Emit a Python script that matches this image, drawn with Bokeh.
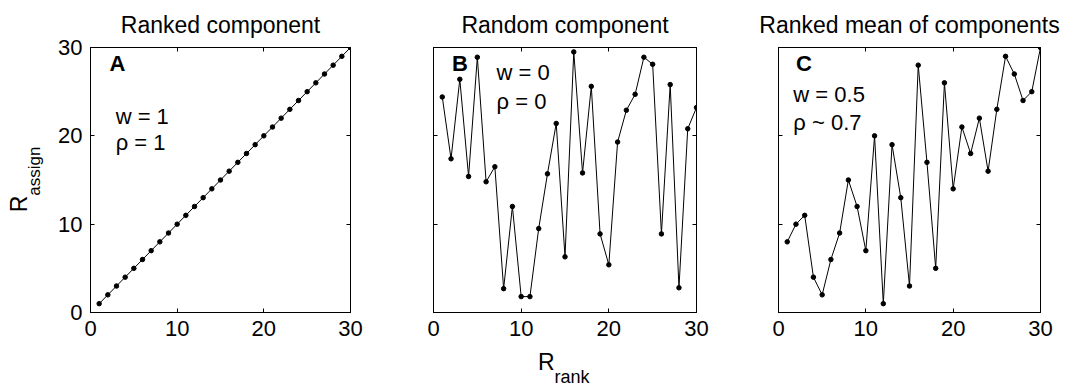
import math
from bokeh.plotting import figure
from bokeh.layouts import row, column
from bokeh.models import LinearAxis, FixedTicker, Label, Range1d
from bokeh.embed import file_html
from bokeh.resources import INLINE

# ---- data ----
rank = list(range(1, 31))
ranked_component = list(range(1, 31))
random_component = [24.4, 17.4, 26.4, 15.4, 28.9, 14.8, 16.5, 2.7, 12.0, 1.8,
                    1.8, 9.5, 15.7, 21.4, 6.3, 29.5, 15.8, 25.6, 8.9, 5.4,
                    19.3, 22.9, 24.7, 28.9, 28.1, 8.9, 25.8, 2.8, 20.8, 23.2]
mean_component = [8, 10, 11, 4, 2, 6, 9, 15, 12, 7,
                  20, 1, 19, 13, 3, 28, 17, 5, 26, 14,
                  21, 18, 22, 16, 23, 29, 27, 24, 25, 30]
tick_values = [0, 10, 20, 30]
titles = ["Ranked component", "Random component", "Ranked mean of components"]
letters = ["A", "B", "C"]
w_texts = ["w = 1", "w = 0", "w = 0.5"]
rho_texts = ["\u03c1 = 1", "\u03c1 = 0", "\u03c1 ~ 0.7"]

FONT = "Liberation Sans"
FS = "22px"
ROW_H = 345


def make_panel(ys, title, width, bl, br, show_ylabels):
    p = figure(width=width, height=ROW_H, output_backend="svg", toolbar_location=None,
               x_range=Range1d(0, 30), y_range=Range1d(0, 30),
               min_border_left=bl, min_border_right=br,
               min_border_top=46, min_border_bottom=33,
               x_axis_location=None, y_axis_location=None)
    p.title.text = title
    p.title.align = "center"
    p.title.text_font = FONT
    p.title.text_font_size = "23px"
    p.title.text_font_style = "normal"
    p.title.text_color = "black"
    p.title.standoff = 19
    p.grid.visible = False
    p.outline_line_color = "black"
    p.outline_line_alpha = 1
    p.background_fill_color = "white"
    p.border_fill_color = "white"

    for loc, labels in (("below", True), ("left", show_ylabels), ("above", False), ("right", False)):
        ax = LinearAxis(ticker=FixedTicker(ticks=tick_values))
        ax.major_tick_in = 4
        ax.major_tick_out = 0
        ax.minor_tick_line_color = None
        ax.axis_line_color = "black"
        ax.major_tick_line_color = "black"
        if labels:
            ax.major_label_text_font = FONT
            ax.major_label_text_font_size = FS
            ax.major_label_text_color = "black"
            ax.major_label_standoff = 8
        else:
            ax.major_label_text_font_size = "0px"
            ax.major_label_text_color = None
            ax.major_label_standoff = 0
        p.add_layout(ax, loc)

    p.line(rank, ys, line_color="black", line_width=1)
    p.scatter(rank, ys, size=4.5, fill_color="black", line_color="black")
    return p


def make_strip(width, height):
    s = figure(width=width, height=height, output_backend="svg", toolbar_location=None,
               x_range=Range1d(0, width), y_range=Range1d(height, 0),
               min_border_left=0, min_border_right=0, min_border_top=0, min_border_bottom=0,
               x_axis_location=None, y_axis_location=None)
    s.grid.visible = False
    s.outline_line_color = None
    s.background_fill_color = "white"
    s.border_fill_color = "white"
    return s


pA = make_panel(ranked_component, titles[0], 335, 33, 40, True)
pB = make_panel(random_component, titles[1], 346, 43, 40, False)
pC = make_panel(mean_component, titles[2], 336, 42, 32, False)
left_strip = make_strip(55, ROW_H)
bottom_strip = make_strip(1072, 385 - ROW_H)


def add_text(p, x, y, text, bold=False, size=FS, align="left", angle=0.0):
    p.add_layout(Label(x=x, y=y, text=text, text_font=FONT, text_font_size=size,
                       text_font_style="bold" if bold else "normal",
                       text_color="black", text_align=align,
                       text_baseline="alphabetic", angle=angle))


# panel annotations (data coordinates)
dy = 1.0
add_text(pA, 2.2, 27.05 + 1.1, letters[0], bold=True)
add_text(pA, 2.9, 21.2 + dy, w_texts[0])
add_text(pA, 2.9, 18.3 + dy, rho_texts[0])

add_text(pB, 2.1, 27.05 + 1.1, letters[1], bold=True)
add_text(pB, 7.2, 26.2 + dy, w_texts[1])
add_text(pB, 7.2, 22.9 + dy, rho_texts[1])

add_text(pC, 2.0, 27.05 + 1.1, letters[2], bold=True)
add_text(pC, 1.7, 23.7 + dy, w_texts[2])
add_text(pC, 1.7, 20.5 + dy, rho_texts[2])

# x-axis label R_rank (strip below the panels, pixel-like coordinates)
add_text(bottom_strip, 554, 16.5, "R", size="23px", align="right")
add_text(bottom_strip, 554, 31, "rank", size="18px", align="left")

# y-axis label R_assign (strip left of the first panel)
add_text(left_strip, 18.5, 193, "R", size="23px", align="right", angle=math.pi / 2)
add_text(left_strip, 34, 193, "assign", size="17px", align="left", angle=math.pi / 2)

layout = column(row(left_strip, pA, pB, pC, spacing=0), bottom_strip, spacing=0)
open("out.html", "w").write(file_html(layout, INLINE))
